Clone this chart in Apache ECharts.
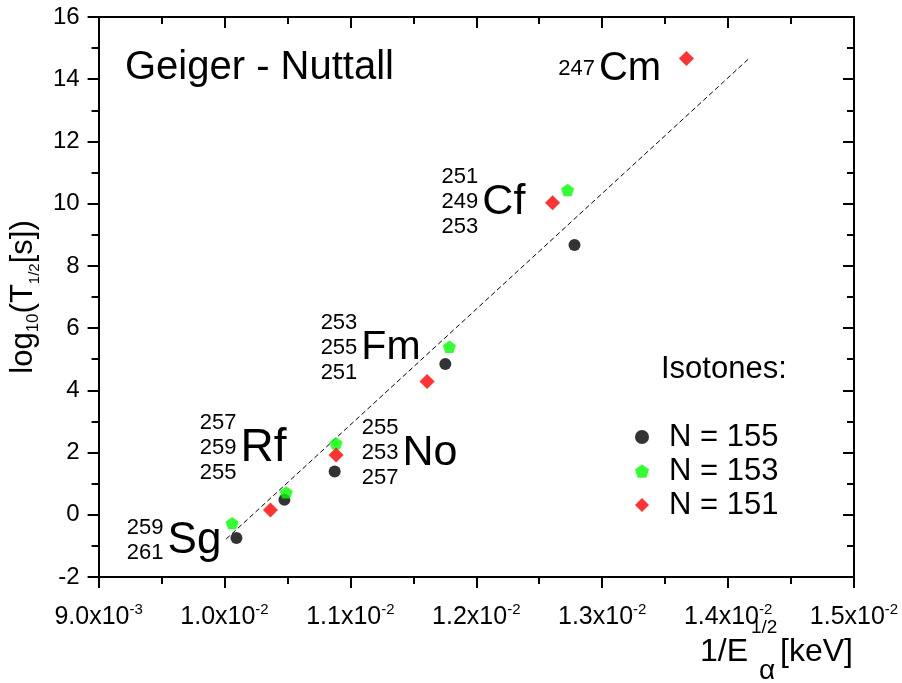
<!DOCTYPE html>
<html>
<head>
<meta charset="utf-8">
<script src="https://cdn.jsdelivr.net/npm/echarts@6/dist/echarts.min.js"></script>
<style>
  html, body { margin: 0; padding: 0; background: #fff; }
  #chart { width: 902px; height: 683px; }
</style>
</head>
<body>
<div id="chart"></div>
<script>
// Isotone series: x = 1/sqrt(E_alpha [keV]), y = log10(T1/2 [s])
const isotoneNames = ['N = 155', 'N = 153', 'N = 151'];
const n155X = [0.010095, 0.010476, 0.010875, 0.011754, 0.012780];
const n155Y = [-0.75, 0.48, 1.39, 4.85, 8.67];
const n153X = [0.010061, 0.010490, 0.010886, 0.011786, 0.012725];
const n153Y = [-0.27, 0.72, 2.30, 5.40, 10.44];
const n151X = [0.010365, 0.010886, 0.011609, 0.012606, 0.013669];
const n151Y = [0.15, 1.92, 4.28, 10.03, 14.67];

// Geiger-Nuttall fit line end points
const fitX = [0.010013, 0.014167];
const fitY = [-0.78, 14.67];

// Element labels with their mass numbers (top to bottom)
const elements = ['Cm', 'Cf', 'Fm', 'No', 'Rf', 'Sg'];
const massNumbers = [
  ['247'],
  ['251', '249', '253'],
  ['253', '255', '251'],
  ['255', '253', '257'],
  ['257', '259', '255'],
  ['259', '261']
];

// Axis ranges
const xRange = [0.009, 0.015];
const xStep = 0.001;
const yRange = [-2, 16];
const yStep = 2;

// Where each element label sits, in axis units
const labelAnchorX = [0.012958, 0.012032, 0.011071, 0.011397, 0.010111, 0.009532];
const labelAnchorY = [14.33, 10.04, 5.36, 1.99, 2.15, -0.84];
const elementFontSize = { Cm: 40, Cf: 43, Fm: 41, No: 43, Rf: 46, Sg: 44 };

const FONT = '"Liberation Sans", Arial, sans-serif';
const INK = '#000';
const pentagon = 'path://M0,-1 L0.951,-0.309 L0.588,0.809 L-0.588,0.809 L-0.951,-0.309 Z';

const zip = (xs, ys) => xs.map((x, i) => [x, ys[i]]);

function sciLabel(v) {
  const exp = Math.floor(Math.log10(v) + 1e-9);
  const mant = (v / Math.pow(10, exp)).toFixed(1);
  return '{m|' + mant + 'x10}{e|' + exp + '}';
}

const axisLineStyle = { color: INK, width: 2 };
function makeX(pos, inside) {
  return {
    type: 'value', position: pos,
    min: xRange[0], max: xRange[1], interval: xStep,
    axisLine: { show: true, onZero: false, lineStyle: axisLineStyle },
    axisTick: { show: true, inside: inside, length: 11, lineStyle: axisLineStyle },
    minorTick: { show: true, splitNumber: 2, length: 7, lineStyle: axisLineStyle },
    splitLine: { show: false },
    axisLabel: pos === 'bottom' ? {
      margin: 25, color: INK, formatter: sciLabel,
      rich: {
        m: { fontSize: 25, fontFamily: FONT, color: INK, lineHeight: 31 },
        e: { fontSize: 15, fontFamily: FONT, color: INK, lineHeight: 14, verticalAlign: 'top' }
      }
    } : { show: false }
  };
}
function makeY(pos, inside) {
  return {
    type: 'value', position: pos,
    min: yRange[0], max: yRange[1], interval: yStep,
    axisLine: { show: true, onZero: false, lineStyle: axisLineStyle },
    axisTick: { show: true, inside: inside, length: 11, lineStyle: axisLineStyle },
    minorTick: { show: true, splitNumber: 2, length: 7, lineStyle: axisLineStyle },
    splitLine: { show: false },
    axisLabel: pos === 'left' ? {
      margin: 19, color: INK, fontSize: 24, fontFamily: FONT
    } : { show: false }
  };
}

const yAxisLeft = makeY('left', false);
yAxisLeft.name = '{m|log}{s|10}{m|(T}{t|1/2}{m|[s])}';
yAxisLeft.nameLocation = 'middle';
yAxisLeft.nameGap = 52;
yAxisLeft.nameTextStyle = {
  padding: [0, 0, 0, 0],
  rich: {
    m: { fontSize: 31, fontFamily: FONT, color: INK, lineHeight: 37 },
    s: { fontSize: 17, fontFamily: FONT, color: INK, lineHeight: 17, verticalAlign: 'bottom' },
    t: { fontSize: 15, fontFamily: FONT, color: INK, lineHeight: 15, verticalAlign: 'bottom' }
  }
};

const anchors = zip(labelAnchorX, labelAnchorY);

const option = {
  animation: false,
  backgroundColor: '#fff',
  grid: { left: 98, right: 48, top: 17, bottom: 106, containLabel: false },
  xAxis: [makeX('bottom', false), makeX('top', true)],
  yAxis: [yAxisLeft, makeY('right', true)],
  legend: {
    data: isotoneNames,
    orient: 'vertical',
    left: 635, top: 420,
    padding: 0,
    itemGap: 0,
    itemWidth: 14, itemHeight: 14,
    selectedMode: false,
    textStyle: { fontSize: 31, fontFamily: FONT, color: INK, lineHeight: 34, padding: [0, 0, 0, 15] }
  },
  graphic: [
    { type: 'text', x: 125, y: 68, silent: true,
      style: { text: 'Geiger - Nuttall', fontSize: 40, fontFamily: FONT, fill: INK, verticalAlign: 'middle' } },
    { type: 'text', x: 661, y: 369, silent: true,
      style: { text: 'Isotones:', fontSize: 31, fontFamily: FONT, fill: INK, verticalAlign: 'middle' } },
    // x-axis title: 1/E_alpha^(1/2) [keV]
    { type: 'text', x: 700, y: 652, silent: true,
      style: { text: '1/E', fontSize: 32, fontFamily: FONT, fill: INK, verticalAlign: 'middle' } },
    { type: 'text', x: 751, y: 628, silent: true,
      style: { text: '1/2', fontSize: 19, fontFamily: FONT, fill: INK, verticalAlign: 'middle' } },
    { type: 'text', x: 759, y: 671, silent: true,
      style: { text: 'α', fontSize: 28, fontFamily: FONT, fill: INK, verticalAlign: 'middle' } },
    { type: 'text', x: 780, y: 652, silent: true,
      style: { text: '[keV]', fontSize: 32, fontFamily: FONT, fill: INK, verticalAlign: 'middle' } }
  ],
  series: [
    {
      type: 'line', name: 'fit', data: zip(fitX, fitY), symbol: 'none', silent: true, z: 1,
      lineStyle: { color: INK, width: 1, type: [5, 3] }
    },
    {
      type: 'scatter', name: isotoneNames[0], data: zip(n155X, n155Y), symbol: 'circle', symbolSize: 12,
      itemStyle: { color: '#000' }, z: 3
    },
    {
      type: 'scatter', name: isotoneNames[1], data: zip(n153X, n153Y), symbol: pentagon, symbolSize: 13,
      symbolKeepAspect: true, itemStyle: { color: '#00ff00' }, z: 3
    },
    {
      type: 'scatter', name: isotoneNames[2], data: zip(n151X, n151Y), symbol: 'diamond', symbolSize: 15,
      itemStyle: { color: '#ff0000' }, z: 3
    },
    {
      // mass-number stacks, right-aligned against each element symbol
      type: 'scatter', name: 'masses', silent: true, symbolSize: 0,
      itemStyle: { color: INK },
      data: anchors,
      label: {
        show: true, position: 'left', distance: 2, opacity: 1, textBorderWidth: 0,
        fontSize: 22, fontFamily: FONT, color: INK, lineHeight: 25, align: 'right',
        formatter: p => massNumbers[p.dataIndex].join('\n')
      }
    },
    {
      // element symbols
      type: 'scatter', name: 'elements', silent: true, symbolSize: 0,
      itemStyle: { color: INK },
      data: anchors.map((p, i) => ({
        value: p,
        label: { fontSize: elementFontSize[elements[i]], color: INK }
      })),
      label: {
        show: true, position: 'right', distance: 2, opacity: 1, textBorderWidth: 0,
        fontFamily: FONT, color: INK,
        formatter: p => elements[p.dataIndex]
      }
    }
  ]
};

const chart = echarts.init(document.getElementById('chart'), null, { renderer: 'canvas' });
chart.setOption(option);
</script>
</body>
</html>
